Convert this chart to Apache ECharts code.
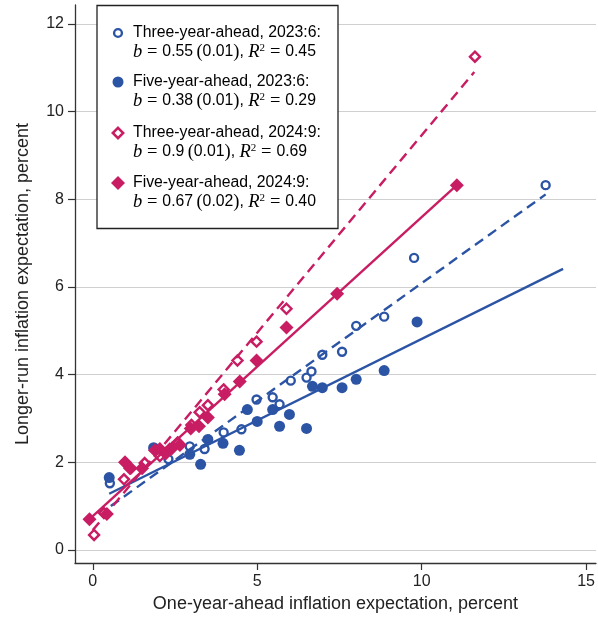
<!DOCTYPE html>
<html>
<head>
<meta charset="utf-8">
<script src="https://cdn.jsdelivr.net/npm/echarts@6/dist/echarts.min.js"></script>
<style>html,body{margin:0;padding:0;background:#fff}#c{width:598px;height:618px}</style>
</head>
<body>
<div id="c"></div>
<script>
// ---- data ----
const threeYear2023 = [[0.52,1.52],[1.86,2.32],[2.3,2.07],[2.95,2.36],[3.4,2.3],[3.98,2.68],[4.52,2.75],[4.98,3.43],[5.47,3.48],[5.68,3.32],[6.02,3.86],[6.5,3.93],[6.65,4.07],[6.98,4.45],[7.58,4.52],[8.01,5.11],[8.86,5.32],[9.77,6.66],[13.77,8.32]];
const fiveYear2023 = [[0.5,1.65],[1.85,2.33],[2.95,2.18],[3.28,1.95],[3.5,2.52],[3.96,2.43],[4.46,2.27],[4.7,3.2],[5.0,2.93],[5.47,3.2],[5.68,2.82],[5.98,3.09],[6.5,2.77],[6.68,3.73],[6.98,3.7],[7.58,3.7],[8.01,3.89],[8.86,4.09],[9.86,5.2]];
const threeYear2024 = [[0.04,0.34],[0.34,0.84],[0.95,1.61],[1.16,1.86],[1.58,1.98],[2.04,2.14],[2.34,2.3],[2.58,2.45],[3.0,2.85],[3.25,3.14],[3.5,3.3],[3.98,3.66],[4.4,4.32],[4.98,4.75],[5.89,5.5],[11.62,11.25]];
const fiveYear2024 = [[-0.1,0.7],[0.43,0.82],[0.98,2.0],[1.13,1.86],[1.5,1.86],[1.89,2.27],[2.04,2.3],[2.22,2.2],[2.41,2.32],[2.65,2.39],[2.98,2.77],[3.23,2.82],[3.5,3.02],[4.01,3.55],[4.47,3.84],[4.98,4.32],[5.89,5.07],[7.43,5.84],[11.07,8.32]];
const fitThree2023 = [[0.55,1.0],[13.77,8.11]];
const fitFive2023 = [[0.5,1.28],[14.3,6.41]];
const fitThree2024 = [[0.0,0.45],[11.6,10.9]];
const fitFive2024 = [[-0.1,0.7],[11.07,8.32]];
const xTicks = [0,5,10,15];
const yTicks = [0,2,4,6,8,10,12];
const legendTitles = ['Three-year-ahead, 2023:6:','Five-year-ahead, 2023:6:','Three-year-ahead, 2024:9:','Five-year-ahead, 2024:9:'];
const legendB = ['0.55','0.38','0.9','0.67'];
const legendSE = ['0.01','0.01','0.01','0.02'];
const legendR2 = ['0.45','0.29','0.69','0.40'];

const BLUE = '#2c54a5', PINK = '#c81d63';
const SANS = 'Liberation Sans, Arial, sans-serif';
const SERIF = 'Liberation Serif, Times New Roman, serif';

const chart = echarts.init(document.getElementById('c'), null, {renderer:'canvas'});

// legend built from arrays
const legendKinds = [
  {type:'circle', hollow:true, color:BLUE},
  {type:'circle', hollow:false, color:BLUE},
  {type:'diamond', hollow:true, color:PINK},
  {type:'diamond', hollow:false, color:PINK}
];
const legendRows = [33, 82, 133, 183];
const graphics = [{
  type:'rect', shape:{x:97, y:5.5, width:241, height:223},
  style:{fill:'#fff', stroke:'#222', lineWidth:1.3}, z:100
}];
const rich = {
  a:{fontFamily:SANS, fontSize:15.8, color:'#222', lineHeight:19},
  i:{fontFamily:SERIF, fontStyle:'italic', fontSize:18.5, color:'#222', lineHeight:19},
  s:{fontFamily:SERIF, fontSize:18.5, color:'#222', lineHeight:19},
  e:{fontFamily:SERIF, fontSize:18.5, color:'#222', lineHeight:19, padding:[0,1.5,0,1.5]},
  sup:{fontFamily:SERIF, fontSize:11, color:'#222', lineHeight:11, verticalAlign:'top'}
};
legendKinds.forEach((k, idx) => {
  const cy = legendRows[idx], cx = 118;
  if (k.type === 'circle') {
    graphics.push({type:'circle', shape:{cx:cx, cy:cy, r:k.hollow?3.9:5.5},
      style:{fill:k.hollow?'#fff':k.color, stroke:k.hollow?k.color:null, lineWidth:2.4}, z:101});
  } else {
    const h = k.hollow ? 5.2 : 7;
    graphics.push({type:'polygon', shape:{points:[[cx,cy-h],[cx+h,cy],[cx,cy+h],[cx-h,cy]]},
      style:{fill:k.hollow?'#fff':k.color, stroke:k.hollow?k.color:null, lineWidth:2.5}, z:101});
  }
  const txt = '{a|' + legendTitles[idx] + '}\n{i|b} {e|=} {a|' + legendB[idx] + '} {s|(}{a|' + legendSE[idx] + '}{s|)}{a|, }{i|R}{sup|2} {e|=} {a|' + legendR2[idx] + '}';
  graphics.push({type:'text', x:133, y:cy-9.5, z:101,
    style:{text:txt, rich:rich, verticalAlign:'top', align:'left'}});
});

function scatter(data, symbol, hollow, color, size) {
  return {
    type:'scatter', data:data, symbol:symbol, symbolSize:size,
    itemStyle: hollow ? {color:'#fff', borderColor:color, borderWidth:2.4, opacity:1}
                      : {color:color, opacity:1},
    silent:true, animation:false
  };
}
function fit(data, color, dashed) {
  return {
    type:'line', data:data, showSymbol:false, symbol:'none',
    lineStyle:{color:color, width:2.4, type: dashed ? [10,6] : 'solid'},
    silent:true, animation:false
  };
}

chart.setOption({
  animation:false,
  grid:{left:75, right:0, top:5, bottom:53, containLabel:false},
  xAxis:{
    type:'value', min:-0.54, max:15.3,
    axisLine:{show:true, onZero:false, lineStyle:{color:'#333', width:1.3}},
    axisTick:{show:true, length:7, customValues:xTicks, lineStyle:{color:'#333', width:1.2}},
    axisLabel:{customValues:xTicks, fontSize:16, color:'#222', fontFamily:SANS, margin:11},
    splitLine:{show:false},
    name:'One-year-ahead inflation expectation, percent', nameLocation:'middle', nameGap:32,
    nameTextStyle:{fontSize:18, color:'#222', fontFamily:SANS}
  },
  yAxis:{
    type:'value', min:-0.3, max:12.43,
    axisLine:{show:true, onZero:false, lineStyle:{color:'#333', width:1.3}},
    axisTick:{show:true, length:7, customValues:yTicks, lineStyle:{color:'#333', width:1.2}},
    axisLabel:{customValues:yTicks, fontSize:16, color:'#222', fontFamily:SANS, margin:11},
    splitLine:{show:true, lineStyle:{color:'#cfcfcf', width:1.2}},
    name:'Longer-run inflation expectation, percent', nameLocation:'middle', nameGap:43,
    nameTextStyle:{fontSize:18, color:'#222', fontFamily:SANS}
  },
  series:[
    scatter(threeYear2023, 'circle', true, BLUE, 8),
    scatter(fiveYear2023, 'circle', false, BLUE, 11),
    scatter(threeYear2024, 'diamond', true, PINK, 10),
    scatter(fiveYear2024, 'diamond', false, PINK, 14),
    fit(fitThree2023, BLUE, true),
    fit(fitFive2023, BLUE, false),
    fit(fitThree2024, PINK, true),
    fit(fitFive2024, PINK, false)
  ],
  graphic:graphics
});
</script>
</body>
</html>
